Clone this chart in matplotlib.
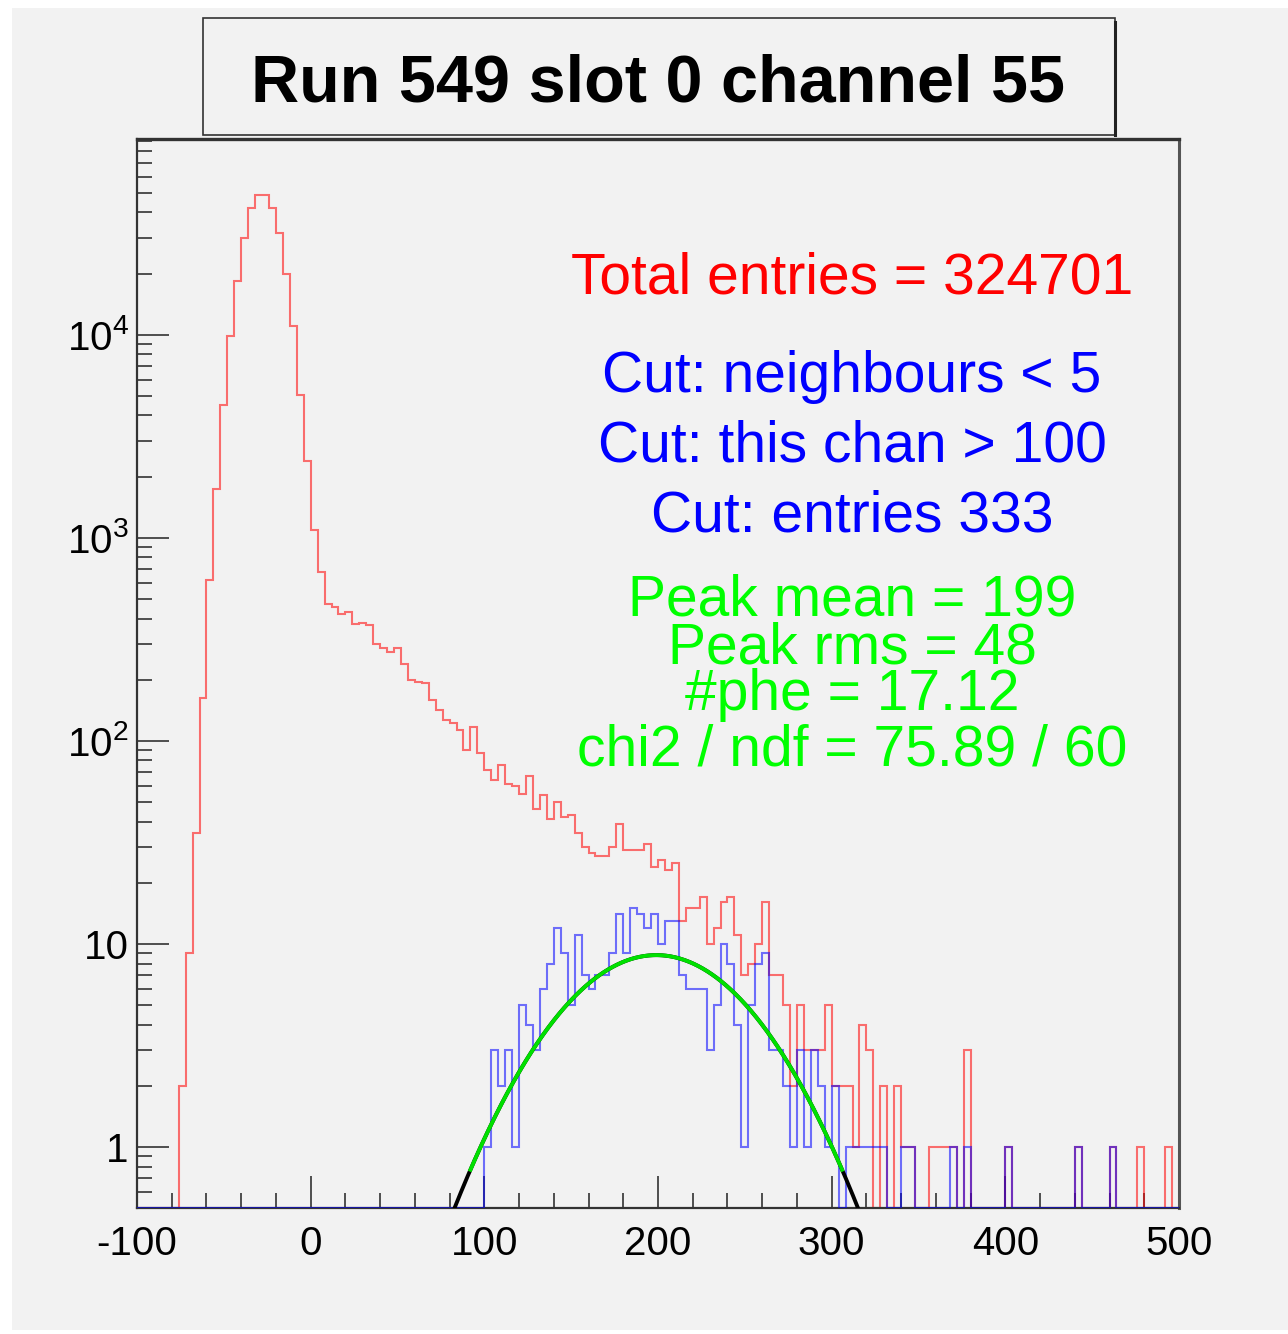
import numpy as np
import matplotlib
matplotlib.use('Agg')
import matplotlib.pyplot as plt
from matplotlib.patches import Rectangle
from matplotlib.lines import Line2D
from matplotlib.ticker import MultipleLocator, LogLocator, FixedLocator, FixedFormatter, NullFormatter

plt.rcParams['font.family'] = ['Liberation Sans', 'DejaVu Sans']
plt.rcParams['mathtext.fontset'] = 'custom'
plt.rcParams['mathtext.rm'] = 'Liberation Sans'
plt.rcParams['axes.unicode_minus'] = False

# binning: 150 bins of width 4 between -100 and 500
x_lo, x_hi, n_bins = -100, 500, 150

# all entries (red), one row = 10 bins
red_counts = [
    0, 0, 0, 0, 0, 0, 2, 9, 35, 162,
    618, 1743, 4480, 9890, 18450, 29900, 42000, 48500, 49000, 42000,
    31700, 19900, 11090, 5070, 2376, 1087, 678, 474, 456, 423,
    431, 375, 380, 371, 299, 285, 274, 285, 238, 199,
    195, 192, 159, 142, 127, 122, 113, 90, 117, 87,
    72, 64, 76, 61, 60, 55, 67, 46, 54, 41,
    50, 42, 43, 35, 30, 28, 27, 27, 30, 39,
    29, 29, 29, 31, 24, 26, 23, 25, 13, 15,
    15, 17, 10, 12, 16, 17, 11, 7, 8, 10,
    16, 7, 7, 5, 2, 5, 3, 3, 3, 5,
    2, 2, 2, 1, 4, 3, 0, 2, 0, 2,
    1, 1, 0, 0, 1, 1, 1, 1, 0, 3,
    0, 0, 0, 0, 0, 1, 0, 0, 0, 0,
    0, 0, 0, 0, 0, 1, 0, 0, 0, 0,
    1, 0, 0, 0, 1, 0, 0, 0, 1, 0,
]

# entries after cuts (blue)
blue_counts = [0] * 50 + [
    1, 3, 2, 3, 1, 5, 4, 3, 6, 8,
    12, 9, 5, 11, 7, 6, 7, 7, 9, 14,
    9, 15, 14, 12, 14, 10, 13, 13, 7, 6,
    6, 6, 3, 5, 10, 8, 4, 1, 5, 8,
    9, 3, 3, 2, 1, 3, 1, 3, 2, 1,
    2, 0, 1, 1, 1, 1, 1, 1, 0, 0,
    1, 1, 0, 0, 0, 0, 0, 1, 0, 1,
    0, 0, 0, 0, 0, 1, 0, 0, 0, 0,
    0, 0, 0, 0, 0, 1, 0, 0, 0, 0,
    1, 0, 0, 0, 0, 0, 0, 0, 0, 0,
]

# gaussian fit of the blue peak
fit_mean = 199.0
fit_sigma = 48.5
fit_amp = 8.8
fit_range = (92, 306)

title = 'Run 549 slot 0 channel 55'
info_red = ['Total entries = 324701']
info_blue = ['Cut: neighbours < 5', 'Cut: this chan > 100', 'Cut: entries 333']
info_green = ['Peak mean = 199', 'Peak rms = 48', '#phe = 17.12', 'chi2 / ndf = 75.89 / 60']

y_lo, y_hi = 0.5, 9.2e4
bg = '#f2f2f2'

W, H = 1288, 1334
fig = plt.figure(figsize=(W / 100, H / 100), dpi=100, facecolor='white')
fig.patches.append(Rectangle((12 / W, 4 / H), 1 - 12 / W, 1 - 12 / H,
                             transform=fig.transFigure, facecolor=bg, edgecolor='none', zorder=-10))

ax = fig.add_axes([137 / W, 1 - 1208 / H, 1042 / W, 1069 / H])
ax.set_facecolor(bg)
ax.set_yscale('log')
ax.set_xlim(x_lo, x_hi)
ax.set_ylim(y_lo, y_hi)

edges = np.linspace(x_lo, x_hi, n_bins + 1)
red = np.maximum(np.array(red_counts, dtype=float), y_lo)
blue = np.maximum(np.array(blue_counts, dtype=float), y_lo)
ax.stairs(red, edges, baseline=y_lo, color='#ff0000', alpha=0.55, lw=1.5, zorder=2)
ax.stairs(blue, edges, baseline=y_lo, color='#0000ff', alpha=0.55, lw=1.5, zorder=3)

def gaus(x):
    return fit_amp * np.exp(-0.5 * ((x - fit_mean) / fit_sigma) ** 2)

xf = np.linspace(70, 330, 600)
ax.plot(xf, gaus(xf), color='black', lw=2.8, zorder=4)
xg = np.linspace(fit_range[0], fit_range[1], 400)
ax.plot(xg, gaus(xg), color='#00e000', lw=2.8, zorder=5)

# ROOT-like axes
ax.xaxis.set_major_locator(MultipleLocator(100))
ax.xaxis.set_minor_locator(MultipleLocator(20))
ax.yaxis.set_major_locator(FixedLocator([1, 10, 100, 1000, 10000]))
ax.yaxis.set_major_formatter(FixedFormatter(['1', '10', r'$\mathregular{10^{2}}$',
                                             r'$\mathregular{10^{3}}$', r'$\mathregular{10^{4}}$']))
ax.yaxis.set_minor_locator(LogLocator(base=10, subs=np.arange(2, 10), numticks=20))
ax.yaxis.set_minor_formatter(NullFormatter())
ax.tick_params(axis='both', which='both', direction='in', top=False, right=False,
               color='#333333', width=1.2)
ax.tick_params(axis='both', which='major', length=23, labelsize=29)
ax.tick_params(axis='both', which='minor', length=11)
ax.tick_params(axis='x', which='major', pad=12)
ax.tick_params(axis='y', which='major', pad=6)
for s in ax.spines.values():
    s.set_color('#333333')
    s.set_linewidth(1.6)
ax.spines['top'].set_linewidth(2.4)
ax.spines['right'].set_color('#555555')
ax.spines['right'].set_linewidth(2.2)

# title box
bx0, bx1, by0, by1 = 203 / W, 1115 / W, 1 - 135 / H, 1 - 18 / H
fig.patches.append(Rectangle((bx0, by0), bx1 - bx0, by1 - by0, transform=fig.transFigure,
                             facecolor=bg, edgecolor='#333333', lw=1.2, zorder=5))
fig.lines.append(Line2D([bx1, bx1], [by0, by1 - 4 / H], transform=fig.transFigure,
                        color='#222222', lw=2.2, zorder=6))
fig.text((247 + 1068) / 2 / W, 1 - 101 / H, title, ha='center', va='baseline',
         fontsize=48, fontweight='bold', color='black', zorder=7)

# info texts
xc = 852 / W
fig.text(xc, 1 - 294 / H, info_red[0], ha='center', va='baseline', fontsize=41, color='#ff0000')
for txt, yb in zip(info_blue, [392, 462, 531]):
    fig.text(xc, 1 - yb / H, txt, ha='center', va='baseline', fontsize=41, color='#0000ff')
for txt, yb in zip(info_green, [615, 663, 710, 765]):
    fig.text(xc, 1 - yb / H, txt, ha='center', va='baseline', fontsize=41, color='#00ff00')

fig.savefig('out.png', dpi=100, facecolor=fig.get_facecolor())
